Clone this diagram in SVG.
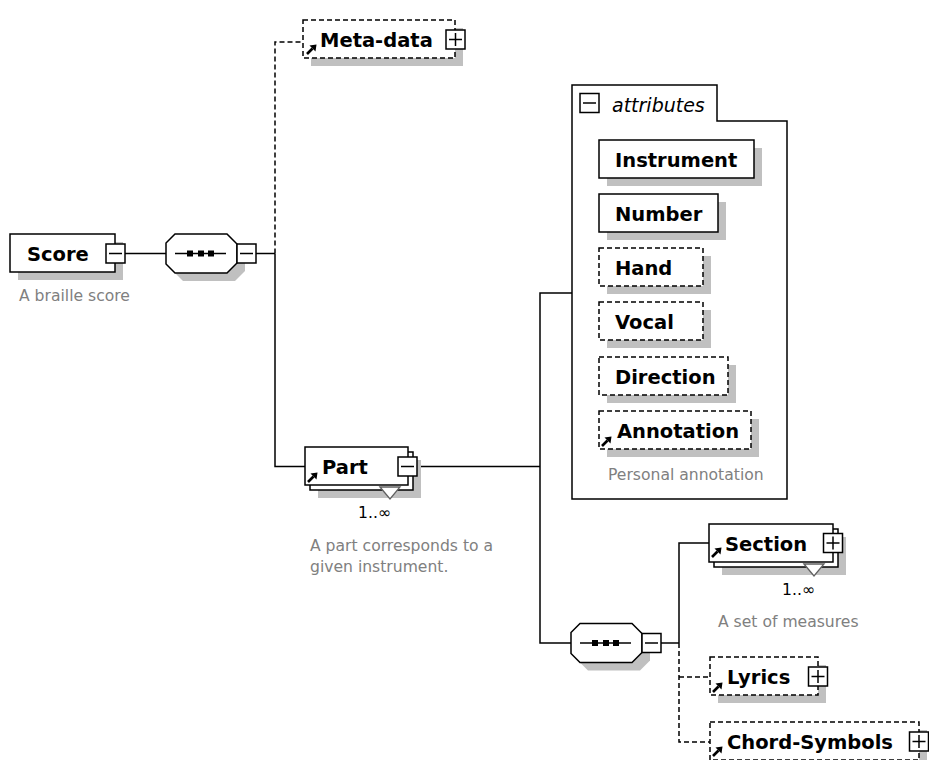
<svg xmlns="http://www.w3.org/2000/svg" xmlns:xlink="http://www.w3.org/1999/xlink" width="929" height="760" viewBox="0 0 929 760">
<style>
.box{fill:#fff;stroke:#000;stroke-width:1.5}
.dbox{fill:#fff;stroke:#000;stroke-width:1.5;stroke-dasharray:5 3}
.sh{fill:#c0c0c0}
.name{font-family:"DejaVu Sans",Verdana,sans-serif;font-weight:bold;font-size:19.5px;fill:#000}
.desc{font-family:"DejaVu Sans",Verdana,sans-serif;font-size:15.6px;fill:#808080}
.mult{font-family:"DejaVu Sans",Verdana,sans-serif;font-size:15.6px;fill:#000}
.ital{font-family:"DejaVu Sans",Verdana,sans-serif;font-style:italic;font-size:19px;fill:#000}
.conn{fill:none;stroke:#000;stroke-width:1.5}
.dconn{fill:none;stroke:#000;stroke-width:1.5;stroke-dasharray:5 3}
.tri{fill:#fff;stroke:#606060;stroke-width:1.3}
</style>
<defs>
<g id="minus"><rect x="0" y="0" width="19" height="19" fill="#fff" stroke="#000" stroke-width="1.5"/><line x1="3" y1="9.5" x2="16" y2="9.5" stroke="#000" stroke-width="1.5"/></g>
<g id="plus"><rect x="0" y="0" width="19" height="19" fill="#fff" stroke="#000" stroke-width="1.5"/><line x1="3" y1="9.5" x2="16" y2="9.5" stroke="#000" stroke-width="1.5"/><line x1="9.5" y1="3" x2="9.5" y2="16" stroke="#000" stroke-width="1.5"/></g>
<g id="arr"><path d="M1,10 L6.5,4.5" stroke="#000" stroke-width="2.6" fill="none"/><polygon points="10.5,0.5 3.5,1.5 9.5,7.5" fill="#000"/></g>
<g id="seq">
<path d="M183,242 H235 L245,252 V271 L235,281 H183 L174,272 V251 Z" class="sh"/>
<path d="M175,234 H227 L237,244 V263 L227,273 H175 L166,264 V243 Z" class="box"/>
<line x1="175" y1="253.5" x2="226" y2="253.5" stroke="#000" stroke-width="1.5"/>
<rect x="187" y="250.5" width="6" height="6" fill="#000"/>
<rect x="198" y="250.5" width="6" height="6" fill="#000"/>
<rect x="208" y="250.5" width="6" height="6" fill="#000"/>
<use xlink:href="#minus" x="237" y="244"/>
</g>
</defs>

<g id="connectors">
<line x1="125" y1="253.5" x2="166" y2="253.5" class="conn"/>
<line x1="256" y1="253.5" x2="275" y2="253.5" class="conn"/>
<path d="M275,253.5 V466.5 H305" class="conn"/>
<path d="M275,253.5 V42 H303" class="dconn"/>
<line x1="417" y1="466.5" x2="540" y2="466.5" class="conn"/>
<path d="M572,293 H540 V643 H571" class="conn"/>
<line x1="661" y1="643" x2="679" y2="643" class="conn"/>
<path d="M679,643 V543 H709" class="conn"/>
<path d="M679,643 V742 H710" class="dconn"/>
<path d="M679,677 H710" class="dconn"/>
</g>

<g id="score">
<rect x="18" y="242" width="105" height="38" class="sh"/>
<rect x="10" y="234" width="105" height="38" class="box"/>
<text x="27" y="261" class="name">Score</text>
<use xlink:href="#minus" x="106" y="244"/>
<text x="19" y="301" class="desc">A braille score</text>
</g>

<g id="sequence1">
<use xlink:href="#seq"/>
</g>

<g id="meta-data">
<rect x="311" y="28" width="152" height="38" class="sh"/>
<rect x="303" y="20" width="152" height="38" class="dbox"/>
<use xlink:href="#arr" x="306" y="44"/>
<text x="320" y="47" class="name">Meta-data</text>
<use xlink:href="#plus" x="446" y="30"/>
</g>

<g id="part">
<rect x="318" y="460" width="103" height="38" class="sh"/>
<rect x="310" y="452" width="103" height="38" class="box"/>
<rect x="305" y="447" width="103" height="38" class="box"/>
<polygon points="380,487 390,499 400,487" class="tri"/>
<use xlink:href="#arr" x="307" y="472"/>
<text x="322" y="474" class="name">Part</text>
<use xlink:href="#minus" x="398" y="457"/>
<text x="358" y="518" class="mult">1..∞</text>
<text x="310" y="551" class="desc">A part corresponds to a</text>
<text x="310" y="572" class="desc">given instrument.</text>
</g>

<g id="attributes">
<path d="M572,85 H717 V121 H787 V499 H572 Z" fill="#fff" stroke="#000" stroke-width="1.5"/>
<use xlink:href="#minus" x="580" y="93.5"/>
<text x="612" y="112" class="ital">attributes</text>
</g>

<g id="instrument">
<rect x="607" y="148" width="155" height="38" class="sh"/>
<rect x="599" y="140" width="155" height="38" class="box"/>
<text x="615" y="167" class="name">Instrument</text>
</g>
<g id="number">
<rect x="607" y="202" width="119" height="38" class="sh"/>
<rect x="599" y="194" width="119" height="38" class="box"/>
<text x="615" y="221" class="name">Number</text>
</g>
<g id="hand">
<rect x="607" y="256" width="104" height="38" class="sh"/>
<rect x="599" y="248" width="104" height="38" class="dbox"/>
<text x="615" y="275" class="name">Hand</text>
</g>
<g id="vocal">
<rect x="607" y="310" width="104" height="38" class="sh"/>
<rect x="599" y="302" width="104" height="38" class="dbox"/>
<text x="615" y="329" class="name">Vocal</text>
</g>
<g id="direction">
<rect x="607" y="365" width="129" height="38" class="sh"/>
<rect x="599" y="357" width="129" height="38" class="dbox"/>
<text x="615" y="384" class="name">Direction</text>
</g>
<g id="annotation">
<rect x="607" y="419" width="152" height="38" class="sh"/>
<rect x="599" y="411" width="152" height="38" class="dbox"/>
<use xlink:href="#arr" x="601" y="436"/>
<text x="617" y="438" class="name">Annotation</text>
<text x="608" y="480" class="desc">Personal annotation</text>
</g>

<g id="sequence2">
<use xlink:href="#seq" transform="translate(405,389.5)"/>
</g>

<g id="section">
<rect x="722" y="537" width="124" height="38" class="sh"/>
<rect x="714" y="529" width="124" height="38" class="box"/>
<rect x="709" y="524" width="124" height="38" class="box"/>
<polygon points="804,564 814,576 824,564" class="tri"/>
<use xlink:href="#arr" x="711" y="547"/>
<text x="725" y="551" class="name">Section</text>
<use xlink:href="#plus" x="823.5" y="533.5"/>
<text x="782" y="595" class="mult">1..∞</text>
<text x="718" y="627" class="desc">A set of measures</text>
</g>

<g id="lyrics">
<rect x="718" y="665" width="108" height="38" class="sh"/>
<rect x="710" y="657" width="108" height="38" class="dbox"/>
<use xlink:href="#arr" x="712" y="682"/>
<text x="727" y="684" class="name">Lyrics</text>
<use xlink:href="#plus" x="808.5" y="667"/>
</g>

<g id="chord-symbols">
<rect x="718" y="730" width="209" height="38" class="sh"/>
<rect x="710" y="722" width="209" height="38" class="dbox"/>
<use xlink:href="#arr" x="712" y="746"/>
<text x="727" y="749" class="name">Chord-Symbols</text>
<use xlink:href="#plus" x="909.5" y="732"/>
</g>
</svg>
